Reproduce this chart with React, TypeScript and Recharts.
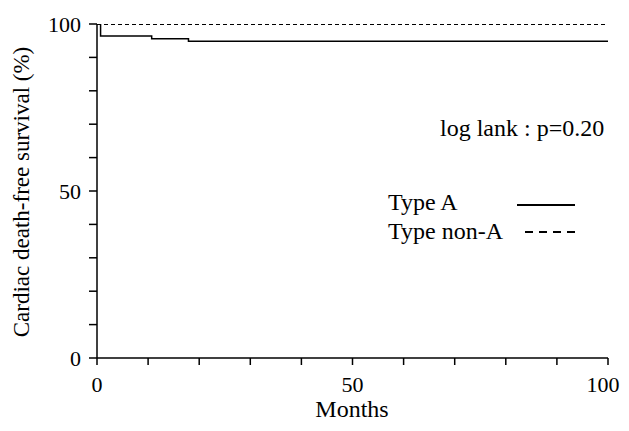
import React from 'react';
import { LineChart, Line, XAxis, YAxis } from 'recharts';

const typeAMonths = [0, 0.7, 10.7, 17.9, 100];
const typeASurvival = [100, 96.4, 95.6, 94.8, 94.8];
const typeNonAMonths = [0, 100];
const typeNonASurvival = [100, 100];
const xTicks = [0, 10, 20, 30, 40, 50, 60, 70, 80, 90, 100];
const yTicks = [0, 10, 20, 30, 40, 50, 60, 70, 80, 90, 100];
const labeledTicks = [0, 50, 100];
const seriesNames = ['Type A', 'Type non-A'];
const annotation = 'log lank : p=0.20';

const typeAData = typeAMonths.map((m, i) => ({ month: m, survival: typeASurvival[i] }));
const typeNonAData = typeNonAMonths.map((m, i) => ({ month: m, survival: typeNonASurvival[i] }));

const FONT = '"Liberation Serif", "Times New Roman", serif';

const fmt = (v: number) => (labeledTicks.includes(v) ? String(v) : '');

const XTick = (props: any) => {
  const { x, y, payload } = props;
  const v = payload.value;
  if (!labeledTicks.includes(v)) return null;
  const shift = v === 100 ? -5 : 0;
  return (
    <text x={x + shift} y={y} dy="0.71em" textAnchor="middle" fontSize={22} fontFamily={FONT} fill="#000">
      {String(v)}
    </text>
  );
};

const LegendBox = () => (
  <svg width={250} height={140} style={{ overflow: 'visible', position: 'absolute', left: 380, top: 100 }}>
    <text x={52} y={28} fontSize={24} fontFamily={FONT} fill="#000">{annotation}</text>
    <text x={0} y={102} fontSize={24} fontFamily={FONT} fill="#000">{seriesNames[0]}</text>
    <line x1={129} x2={187} y1={97} y2={97} stroke="#000" strokeWidth={2} />
    <text x={0} y={131} fontSize={24} fontFamily={FONT} fill="#000">{seriesNames[1]}</text>
    <line x1={137} x2={187} y1={124} y2={124} stroke="#000" strokeWidth={2} strokeDasharray="8 6" />
  </svg>
);

export default function App() {
  return (
    <div style={{ fontFamily: FONT, position: 'relative', width: 613, height: 423 }}>
      <LineChart
        width={613}
        height={423}
        margin={{ top: 16, right: 13, left: 0, bottom: 0 }}
      >
        <XAxis
          dataKey="month"
          type="number"
          domain={[0, 100]}
          ticks={xTicks}
          interval={0}
          allowDataOverflow
          axisLine={{ stroke: '#000', strokeWidth: 1.5 }}
          tickLine={{ stroke: '#000', strokeWidth: 1.5 }}
          tickSize={7}
          tickMargin={11}
          tick={<XTick />}
          height={73}
          label={{
            content: () => (
              <text x={344} y={409} textAnchor="middle" fontSize={24} fontFamily={FONT} fill="#000">
                Months
              </text>
            ),
          }}
        />
        <YAxis
          type="number"
          domain={[0, 100]}
          ticks={yTicks}
          tickFormatter={fmt}
          interval={0}
          allowDataOverflow
          axisLine={{ stroke: '#000', strokeWidth: 1.5 }}
          tickLine={{ stroke: '#000', strokeWidth: 1.5 }}
          tickSize={8}
          tickMargin={8}
          tick={{ fill: '#000', fontSize: 22, fontFamily: FONT }}
          width={89}
          label={{
            content: () => (
              <text
                x={21}
                y={184}
                textAnchor="middle"
                fontSize={23}
                fontFamily={FONT}
                fill="#000"
                transform="rotate(-90 21 184)"
              >
                Cardiac death-free survival (%)
              </text>
            ),
          }}
        />
        <Line
          data={typeNonAData}
          dataKey="survival"
          name={seriesNames[1]}
          type="stepAfter"
          stroke="#000"
          strokeWidth={2}
          strokeDasharray="4 3"
          dot={false}
          activeDot={false}
          isAnimationActive={false}
        />
        <Line
          data={typeAData}
          dataKey="survival"
          name={seriesNames[0]}
          type="stepAfter"
          stroke="#000"
          strokeWidth={1.5}
          dot={false}
          activeDot={false}
          isAnimationActive={false}
        />
      </LineChart>
      <LegendBox />
    </div>
  );
}
